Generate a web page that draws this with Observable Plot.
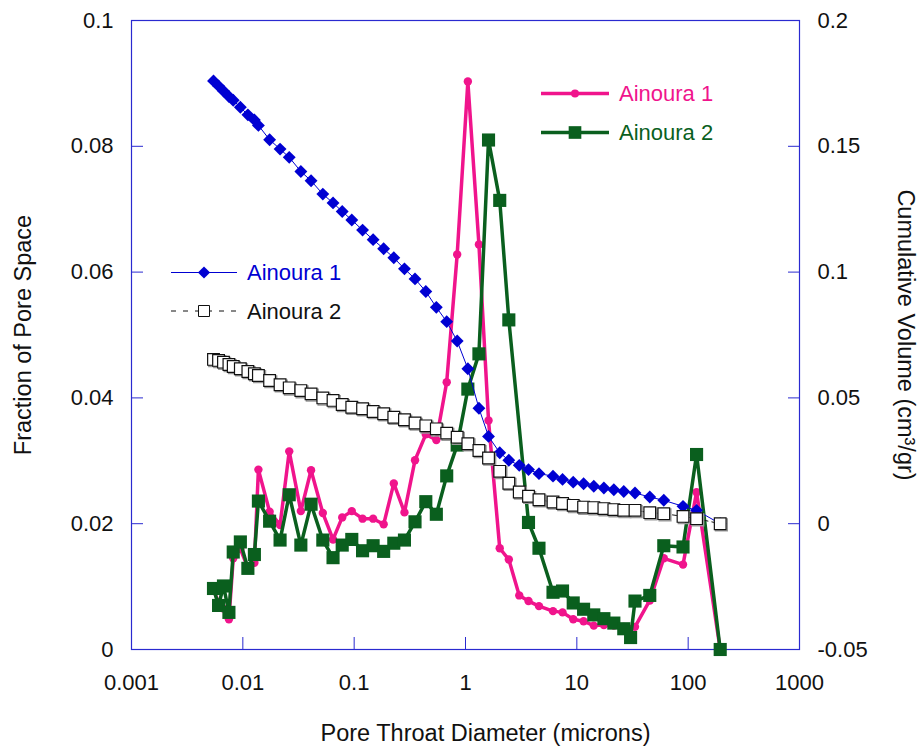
<!DOCTYPE html>
<html><head><meta charset="utf-8">
<script src="https://cdn.jsdelivr.net/npm/d3@7"></script>
<script src="https://cdn.jsdelivr.net/npm/@observablehq/plot@0.6"></script>
<style>body{margin:0;background:#fff} #chart{width:923px;height:749px}</style>
</head><body><div id="chart"></div>
<script>
// Pore throat diameters (microns)
const diameter = [0.00545, 0.00605, 0.0067, 0.0075, 0.0082, 0.0095, 0.0111, 0.0127, 0.0138, 0.0174,
  0.0216, 0.0261, 0.0332, 0.041, 0.0523, 0.0646, 0.0781, 0.0952, 0.119, 0.148,
  0.184, 0.227, 0.283, 0.352, 0.44, 0.547, 0.678, 0.842, 1.05, 1.32,
  1.61, 2.03, 2.45, 3.04, 3.68, 4.57, 6.11, 7.44, 9.28, 11.5,
  14.2, 17.5, 21.5, 26.4, 30.4, 33.3, 45.2, 60.4, 89.9, 119, 194];
// Fraction of pore space (left axis)
const fracAinoura1 = [0.0095, 0.0075, 0.0065, 0.0048, 0.0145, 0.016, 0.013, 0.0138, 0.0286, 0.0219,
  0.0198, 0.0315, 0.022, 0.0285, 0.0217, 0.0175, 0.021, 0.022, 0.0208, 0.0208,
  0.0199, 0.0264, 0.0218, 0.0301, 0.0342, 0.0333, 0.0425, 0.0628, 0.0903, 0.0644,
  0.0364, 0.0161, 0.0143, 0.0086, 0.0077, 0.0069, 0.0061, 0.0059, 0.0048, 0.0045,
  0.0038, 0.0039, 0.0038, 0.0036, null, 0.0036, 0.0078, 0.0145, 0.0135, 0.025, 0];
const fracAinoura2 = [0.0097, 0.007, 0.0101, 0.0059, 0.0155, 0.0171, 0.0129, 0.0151, 0.0236, 0.0204,
  0.0174, 0.0246, 0.0166, 0.0231, 0.0174, 0.0146, 0.0166, 0.0175, 0.0157, 0.0165,
  0.0156, 0.0169, 0.0174, 0.0203, 0.0235, 0.0215, 0.0276, 0.0325, 0.0414, 0.047,
  0.081, 0.0714, 0.0524, null, 0.0202, 0.0161, 0.0091, 0.0093, 0.0074, 0.0064,
  0.0055, 0.0049, 0.0042, 0.0033, 0.0019, 0.0077, 0.0086, 0.0165, 0.0163, 0.031, 0];
// Cumulative volume, cm3/gr (right axis)
const cumAinoura1 = [0.176, 0.174, 0.172, 0.1698, 0.1683, 0.1655, 0.1625, 0.1605, 0.1583, 0.1526,
  0.1489, 0.1456, 0.14, 0.1363, 0.131, 0.1275, 0.1241, 0.1207, 0.1167, 0.1129,
  0.1093, 0.1057, 0.1013, 0.0973, 0.0923, 0.086, 0.0803, 0.0726, 0.0616, 0.0459,
  0.0347, 0.0282, 0.0252, 0.0232, 0.0215, 0.0199, 0.0189, 0.0176, 0.0165, 0.0159,
  0.0149, 0.0142, 0.0135, 0.0128, null, 0.0122, 0.0106, 0.0093, 0.0069, 0.0053, 0];
const cumAinoura2 = [0.0653, 0.0649, 0.0642, 0.0633, 0.0625, 0.0616, 0.0605, 0.0596, 0.0589, 0.0569,
  0.0552, 0.054, 0.0529, 0.0516, 0.05, 0.049, 0.0474, 0.0463, 0.0457, 0.0446,
  0.0437, 0.0423, 0.0413, 0.04, 0.0389, 0.0377, 0.036, 0.0344, 0.0318, 0.0291,
  0.0261, 0.0208, 0.0161, 0.0126, 0.0109, 0.0095, 0.0086, 0.008, 0.0073, 0.0066,
  0.0064, 0.006, 0.0056, 0.0053, null, 0.0053, 0.0044, 0.004, 0.0029, 0.002, 0];

const xTicks = [0.001, 0.01, 0.1, 1, 10, 100, 1000];
const leftTicks = [0, 0.02, 0.04, 0.06, 0.08, 0.1];
const rightTicks = [-0.05, 0, 0.05, 0.1, 0.15, 0.2];
const seriesNames = ["Ainoura 1", "Ainoura 2"];
const xLabel = "Pore Throat Diameter (microns)";
const yLabelLeft = "Fraction of Pore Space";
const yLabelRight = "Cumulative Volume (cm\u00B3/gr)";

const FONT = "'Liberation Sans', Arial, Helvetica, sans-serif";
const AXIS = "#2a2ad0";
const PINK = "#f0148c";
const GREEN = "#0a5f1e";
const BLUE = "#0000d2";
const INK = "#111";
const TITLE_SIZE = 23.5;

// right axis domain [-0.05, 0.2] shares the frame with left domain [0, 0.1]
const rightToLeft = v => (v + 0.05) * 0.4;
const fmtRight = d => String(Math.round((d / 0.4 - 0.05) * 100) / 100);
const rows = values => diameter.map((d, i) => ({d, v: values[i]})).filter(r => r.v != null);

const noLabel = {label: null};
const plot = Plot.plot({
  width: 923, height: 749,
  marginLeft: 131, marginRight: 124, marginTop: 20, marginBottom: 100,
  style: {fontFamily: FONT, fontSize: "22px", color: INK, background: "#fff"},
  x: {type: "log", domain: [0.001, 1000], label: null},
  y: {domain: [0, 0.1], label: null},
  marks: [
    Plot.frame({stroke: AXIS, strokeWidth: 1.2}),
    Plot.axisX(xTicks, {tickSize: -12, tickFormat: () => "", stroke: AXIS, ...noLabel}),
    Plot.axisX(xTicks, {tickSize: 0, tickPadding: 25, tickFormat: String, fill: INK, fontSize: 22, ...noLabel}),
    Plot.axisY(leftTicks, {anchor: "left", tickSize: -12, tickFormat: () => "", stroke: AXIS, ...noLabel}),
    Plot.axisY(leftTicks, {anchor: "left", tickSize: 0, tickPadding: 18, tickFormat: String, fill: INK, fontSize: 22, ...noLabel}),
    Plot.axisY(rightTicks.map(rightToLeft), {anchor: "right", tickSize: -12, tickFormat: () => "", stroke: AXIS, ...noLabel}),
    Plot.axisY(rightTicks.map(rightToLeft), {anchor: "right", tickSize: 0, tickPadding: 18, tickFormat: fmtRight, fill: INK, fontSize: 22, ...noLabel}),
    Plot.text([xLabel], {frameAnchor: "bottom", lineAnchor: "middle", textAnchor: "middle", dx: 20, dy: 84, fontSize: TITLE_SIZE, fill: INK}),
    Plot.text([yLabelLeft], {frameAnchor: "left", lineAnchor: "middle", textAnchor: "middle", dx: -108, rotate: -90, fontSize: TITLE_SIZE, fill: INK}),
    Plot.text([yLabelRight], {frameAnchor: "right", lineAnchor: "middle", textAnchor: "middle", dx: 106, rotate: 90, fontSize: TITLE_SIZE, fill: INK}),
    // fraction of pore space
    Plot.line(rows(fracAinoura1), {x: "d", y: "v", stroke: PINK, strokeWidth: 3.5}),
    Plot.dot(rows(fracAinoura1), {x: "d", y: "v", fill: PINK, r: 4.2}),
    Plot.line(rows(fracAinoura2), {x: "d", y: "v", stroke: GREEN, strokeWidth: 3.5}),
    Plot.dot(rows(fracAinoura2), {x: "d", y: "v", symbol: "square", fill: GREEN, r: 7.4}),
    // cumulative volume
    Plot.line(rows(cumAinoura1), {x: "d", y: r => rightToLeft(r.v), stroke: BLUE, strokeWidth: 1}),
    Plot.dot(rows(cumAinoura1), {x: "d", y: r => rightToLeft(r.v), symbol: "diamond2", fill: BLUE, stroke: "none", r: 5.8}),
    Plot.line(rows(cumAinoura2), {x: "d", y: r => rightToLeft(r.v), stroke: INK, strokeWidth: 1, strokeDasharray: "4,4"}),
    Plot.dot(rows(cumAinoura2), {x: "d", y: r => rightToLeft(r.v), symbol: "square", fill: "none", stroke: "#999", strokeWidth: 1.5, dx: 1.2, dy: 1.2, r: 6.6}),
    Plot.dot(rows(cumAinoura2), {x: "d", y: r => rightToLeft(r.v), symbol: "square", fill: "#fff", stroke: INK, strokeWidth: 1.2, r: 6.6})
  ]
});
document.getElementById("chart").appendChild(plot);

// legends (inside the plot area)
const svg = d3.select(plot);
const g = svg.append("g").attr("font-family", FONT).attr("font-size", 22).attr("text-anchor", "start");
function legendItem(x1, x2, y, color, lineW, dash, symbolType, symSize, fill, stroke, label, textColor) {
  g.append("line").attr("x1", x1).attr("x2", x2).attr("y1", y).attr("y2", y)
    .attr("stroke", color).attr("stroke-width", lineW).attr("stroke-dasharray", dash);
  g.append("path").attr("d", d3.symbol(symbolType, symSize)())
    .attr("transform", `translate(${(x1 + x2) / 2},${y})`)
    .attr("fill", fill).attr("stroke", stroke);
  g.append("text").attr("x", x2 + 10).attr("y", y).attr("dy", "0.35em")
    .attr("text-anchor", "start").attr("fill", textColor).text(label);
}
legendItem(171, 237, 272.5, BLUE, 1, null, d3.symbolDiamond2, Math.PI * 30, BLUE, "none", seriesNames[0], BLUE);
legendItem(171, 237, 311, INK, 1, "5,7", d3.symbolSquare, 121, "#fff", INK, seriesNames[1], INK);
legendItem(541, 609, 93.5, PINK, 3.5, null, d3.symbolCircle, Math.PI * 16, PINK, "none", seriesNames[0], PINK);
legendItem(541, 609, 132.5, GREEN, 3.5, null, d3.symbolSquare, 160, GREEN, "none", seriesNames[1], GREEN);
</script>
</body></html>
